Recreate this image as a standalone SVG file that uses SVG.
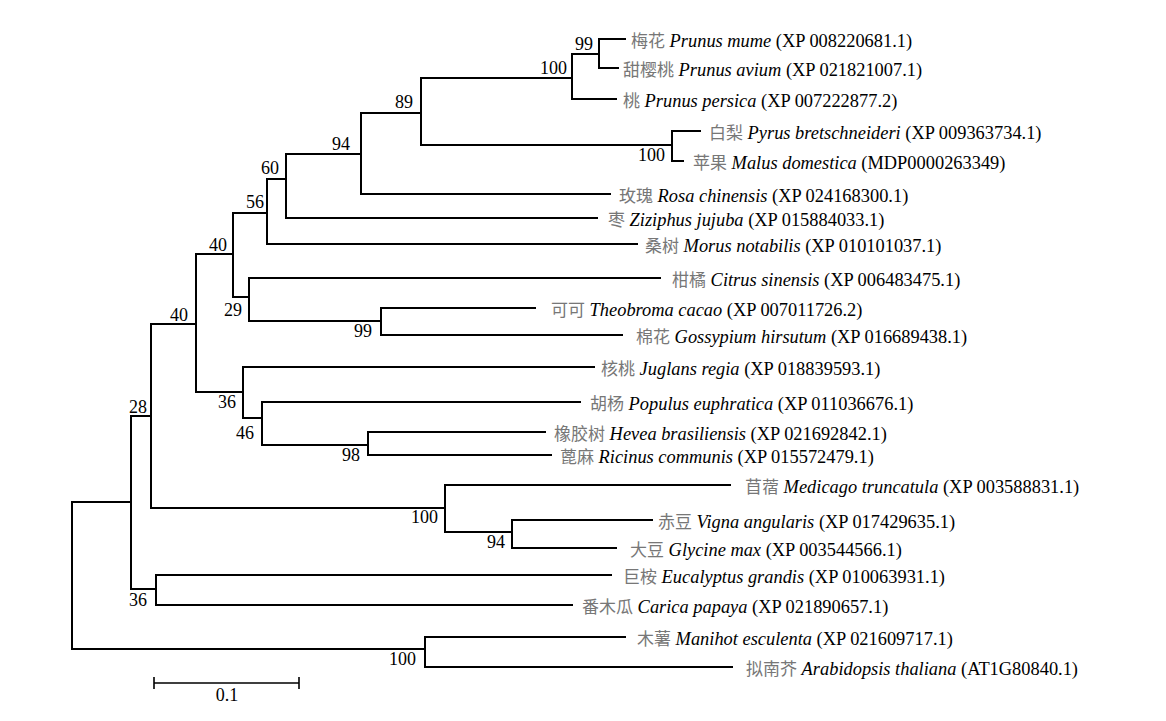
<svg xmlns="http://www.w3.org/2000/svg" width="1166" height="721" viewBox="0 0 1166 721">
<style>
.br{fill:none;stroke:#000;stroke-width:2;stroke-linecap:square;stroke-linejoin:miter}
.lf{font-family:"Liberation Serif","Times New Roman",serif;font-size:18.4px;fill:#000}
.cn{font-family:"Noto Sans CJK SC",sans-serif;font-size:17px;fill:#777}
.sp{font-style:italic}
.bs{font-family:"Liberation Serif","Times New Roman",serif;font-size:18px;fill:#000;text-anchor:end}
.sc{font-family:"Liberation Serif","Times New Roman",serif;font-size:18px;fill:#000;text-anchor:middle}
</style>
<rect width="1166" height="721" fill="#fff"/>
<g id="connectors">
<path class="br" d="M625,39 H599 V68 H618"/>
<path class="br" d="M599,54 H572 V99 H616"/>
<path class="br" d="M700,131 H672 V161 H683"/>
<path class="br" d="M572,78 H421 V145 H672"/>
<path class="br" d="M421,113 H361 V194 H610"/>
<path class="br" d="M361,154 H286 V218 H597"/>
<path class="br" d="M286,179 H267 V244 H637"/>
<path class="br" d="M535,308 H381 V335 H622"/>
<path class="br" d="M660,278 H249 V321 H381"/>
<path class="br" d="M267,213 H233 V297 H249"/>
<path class="br" d="M545,432 H368 V455 H551"/>
<path class="br" d="M580,402 H262 V445 H368"/>
<path class="br" d="M594,367 H243 V418 H262"/>
<path class="br" d="M233,254 H196 V392 H243"/>
<path class="br" d="M652,520 H512 V548 H616"/>
<path class="br" d="M730,485 H445 V532 H512"/>
<path class="br" d="M196,324 H151 V508 H445"/>
<path class="br" d="M611,575 H156 V605 H572"/>
<path class="br" d="M151,416 H131 V589 H156"/>
<path class="br" d="M625,637 H425 V667 H732"/>
<path class="br" d="M131,502 H72 V649 H425"/>
</g>
<g id="bootstrap">
<g id="n599"><text class="bs" x="593" y="50">99</text></g>
<g id="n572"><text class="bs" x="567" y="74">100</text></g>
<g id="n672"><text class="bs" x="665" y="161">100</text></g>
<g id="n421"><text class="bs" x="413" y="108">89</text></g>
<g id="n361"><text class="bs" x="350" y="150">94</text></g>
<g id="n286"><text class="bs" x="279" y="174">60</text></g>
<g id="n267"><text class="bs" x="264" y="208">56</text></g>
<g id="n233"><text class="bs" x="227" y="251">40</text></g>
<g id="n249"><text class="bs" x="242" y="316">29</text></g>
<g id="n381"><text class="bs" x="372" y="337">99</text></g>
<g id="n196"><text class="bs" x="188" y="321">40</text></g>
<g id="n243"><text class="bs" x="236" y="408">36</text></g>
<g id="n262"><text class="bs" x="254" y="439">46</text></g>
<g id="n368"><text class="bs" x="360" y="461">98</text></g>
<g id="n151"><text class="bs" x="147" y="413">28</text></g>
<g id="n445"><text class="bs" x="438" y="523">100</text></g>
<g id="n512"><text class="bs" x="505" y="548">94</text></g>
<g id="n156"><text class="bs" x="147" y="606">36</text></g>
<g id="n425"><text class="bs" x="416" y="665">100</text></g>
</g>
<g id="leaves">
<g id="mume"><text class="lf" x="631" y="47"><tspan class="cn">梅花</tspan> <tspan class="sp">Prunus mume</tspan> (XP 008220681.1)</text></g>
<g id="avium"><text class="lf" x="623" y="76"><tspan class="cn">甜樱桃</tspan> <tspan class="sp">Prunus avium</tspan> (XP 021821007.1)</text></g>
<g id="persica"><text class="lf" x="623" y="107"><tspan class="cn">桃</tspan> <tspan class="sp">Prunus persica</tspan> (XP 007222877.2)</text></g>
<g id="pyrus"><text class="lf" x="709" y="139"><tspan class="cn">白梨</tspan> <tspan class="sp">Pyrus bretschneideri</tspan> (XP 009363734.1)</text></g>
<g id="malus"><text class="lf" x="693" y="169"><tspan class="cn">苹果</tspan> <tspan class="sp">Malus domestica</tspan> (MDP0000263349)</text></g>
<g id="rosa"><text class="lf" x="619" y="202"><tspan class="cn">玫瑰</tspan> <tspan class="sp">Rosa chinensis</tspan> (XP 024168300.1)</text></g>
<g id="ziziphus"><text class="lf" x="608" y="226"><tspan class="cn">枣</tspan> <tspan class="sp">Ziziphus jujuba</tspan> (XP 015884033.1)</text></g>
<g id="morus"><text class="lf" x="645" y="252"><tspan class="cn">桑树</tspan> <tspan class="sp">Morus notabilis</tspan> (XP 010101037.1)</text></g>
<g id="citrus"><text class="lf" x="672" y="286"><tspan class="cn">柑橘</tspan> <tspan class="sp">Citrus sinensis</tspan> (XP 006483475.1)</text></g>
<g id="cacao"><text class="lf" x="551" y="316"><tspan class="cn">可可</tspan> <tspan class="sp">Theobroma cacao</tspan> (XP 007011726.2)</text></g>
<g id="gossypium"><text class="lf" x="636" y="343"><tspan class="cn">棉花</tspan> <tspan class="sp">Gossypium hirsutum</tspan> (XP 016689438.1)</text></g>
<g id="juglans"><text class="lf" x="601" y="375"><tspan class="cn">核桃</tspan> <tspan class="sp">Juglans regia</tspan> (XP 018839593.1)</text></g>
<g id="populus"><text class="lf" x="590" y="410"><tspan class="cn">胡杨</tspan> <tspan class="sp">Populus euphratica</tspan> (XP 011036676.1)</text></g>
<g id="hevea"><text class="lf" x="554" y="440"><tspan class="cn">橡胶树</tspan> <tspan class="sp">Hevea brasiliensis</tspan> (XP 021692842.1)</text></g>
<g id="ricinus"><text class="lf" x="560" y="463"><tspan class="cn">蓖麻</tspan> <tspan class="sp">Ricinus communis</tspan> (XP 015572479.1)</text></g>
<g id="medicago"><text class="lf" x="745" y="493"><tspan class="cn">苜蓿</tspan> <tspan class="sp">Medicago truncatula</tspan> (XP 003588831.1)</text></g>
<g id="vigna"><text class="lf" x="658" y="528"><tspan class="cn">赤豆</tspan> <tspan class="sp">Vigna angularis</tspan> (XP 017429635.1)</text></g>
<g id="glycine"><text class="lf" x="630" y="556"><tspan class="cn">大豆</tspan> <tspan class="sp">Glycine max</tspan> (XP 003544566.1)</text></g>
<g id="eucalyptus"><text class="lf" x="623" y="583"><tspan class="cn">巨桉</tspan> <tspan class="sp">Eucalyptus grandis</tspan> (XP 010063931.1)</text></g>
<g id="carica"><text class="lf" x="582" y="613"><tspan class="cn">番木瓜</tspan> <tspan class="sp">Carica papaya</tspan> (XP 021890657.1)</text></g>
<g id="manihot"><text class="lf" x="637" y="645"><tspan class="cn">木薯</tspan> <tspan class="sp">Manihot esculenta</tspan> (XP 021609717.1)</text></g>
<g id="arabidopsis"><text class="lf" x="746" y="675"><tspan class="cn">拟南芥</tspan> <tspan class="sp">Arabidopsis thaliana</tspan> (AT1G80840.1)</text></g>
</g>
<g id="scalebar">
<path d="M154,683 H299 M154,677 V689 M299,677 V689" fill="none" stroke="#000" stroke-width="1.6"/>
<text class="sc" x="227" y="701">0.1</text>
</g>
</svg>
